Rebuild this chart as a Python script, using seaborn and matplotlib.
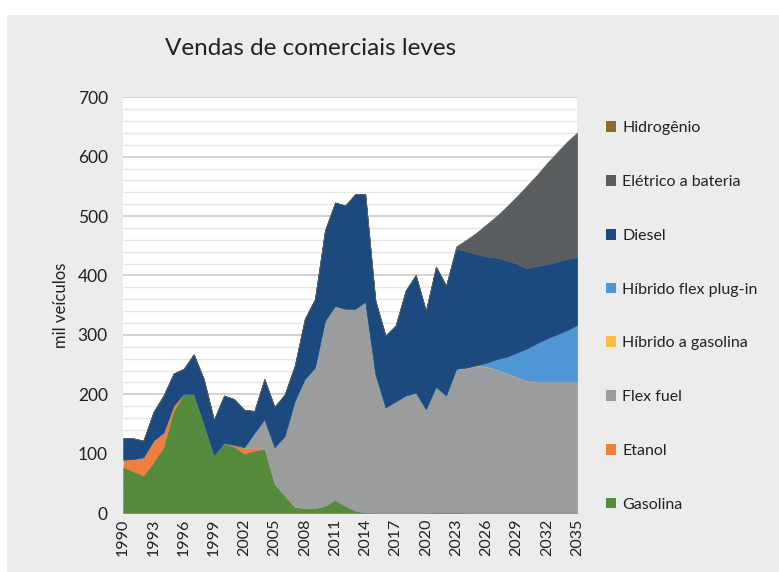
# %%
# import libraries
import matplotlib.pyplot as plt
import pandas as pd
import seaborn as sns
from matplotlib.patches import Patch
from matplotlib.ticker import MultipleLocator

# %%
# data (mil veículos)
years = list(range(1990, 2036))

gasolina = [77, 70, 63, 85, 111, 172, 200, 200, 150, 97, 117, 112, 100, 105, 108, 49,
            29, 10, 8, 8, 12, 22, 12, 4, 1, 0, 0, 0, 0, 0, 0, 1, 2, 2, 0, 0,
            0, 0, 0, 0, 0, 0, 0, 0, 0, 0]
etanol = [13, 21, 31, 37, 25, 9, 1, 0.5, 0.5, 0.5, 1, 3, 10, 5, 1, 1,
          0.5, 1, 0, 0, 0, 0, 0, 0, 0, 0, 0, 0, 0, 0, 0, 0, 0, 0, 0, 0,
          0, 0, 0, 0, 0, 0, 0, 0, 0, 0]
flex_fuel = [0, 0, 0, 0, 0, 0, 0, 0, 0, 0, 0, 0, 1, 25, 49, 61,
             100, 178, 218, 237, 312, 327, 332, 340, 355, 234, 178, 188, 198, 203, 175, 212,
             196, 240, 244, 248, 246, 241, 235, 228, 222, 220, 220, 220, 220, 220]
hibrido_gasolina = [0] * 33 + [1] * 13
hibrido_flex = [0] * 36 + [6, 17, 27, 41, 54, 65, 73, 80, 87, 96]
diesel = [36, 35, 28, 48, 62, 54, 42, 67, 75, 60, 80, 77, 63, 37, 68, 68,
          70, 59, 101, 115, 152, 174, 174, 193, 181, 124, 121, 128, 177, 198, 166, 202,
          185, 202, 196, 187, 179, 171, 162, 150, 135, 130, 125, 122, 120, 113]
eletrico = [0] * 33 + [4, 19, 36, 54, 70, 91, 113, 139, 153, 170, 184, 197, 210]
hidrogenio = [0] * 40 + [0.5, 0.7, 0.9, 1.1, 1.3, 1.5]

labels = ["Gasolina", "Etanol", "Flex fuel", "Híbrido a gasolina",
          "Híbrido flex plug-in", "Diesel", "Elétrico a bateria", "Hidrogênio"]
colors = ["#568b3e", "#f07f3c", "#9a9c9d", "#fbbf3f",
          "#4f97d4", "#1c4a7e", "#5a5d60", "#8e6d2a"]

df = pd.DataFrame({
    "Gasolina": gasolina,
    "Etanol": etanol,
    "Flex fuel": flex_fuel,
    "Híbrido a gasolina": hibrido_gasolina,
    "Híbrido flex plug-in": hibrido_flex,
    "Diesel": diesel,
    "Elétrico a bateria": eletrico,
    "Hidrogênio": hidrogenio,
}, index=years)

# %%
# plot
sns.set_theme(style="white")
plt.rcParams["font.family"] = ["Lato", "DejaVu Sans"]

bg = "#ececec"
fig = plt.figure(figsize=(7.79, 5.72), dpi=100, facecolor="white")
fig.patches.append(plt.Rectangle((0.009, 0), 0.991, 0.974, transform=fig.transFigure,
                                 facecolor=bg, edgecolor="none", zorder=-10))
ax = fig.add_axes([0.158, 0.103, 0.583, 0.727])
ax.set_facecolor("white")

polys = ax.stackplot(df.index, df.T.values, colors=colors, edgecolor="face", linewidth=0.4)
# thin layers: no outline, otherwise they trace the edge of the stack
for name, p in zip(labels, polys):
    if name in ("Etanol", "Híbrido a gasolina", "Hidrogênio"):
        p.set_linewidth(0)

ax.set_xlim(1990, 2035)
ax.set_ylim(0, 700)
ax.set_xticks(years[::3])
ax.set_xticklabels([str(y) for y in years[::3]], rotation=90, fontsize=11.5, color="#222222")
ax.yaxis.set_major_locator(MultipleLocator(100))
ax.yaxis.set_minor_locator(MultipleLocator(20))
ax.tick_params(axis="y", labelsize=12.5, labelcolor="#222222", length=0, pad=11)
ax.tick_params(axis="x", length=0, pad=4)
ax.grid(axis="y", which="major", color="#cfcfcf", linewidth=1.3, zorder=0)
ax.grid(axis="y", which="minor", color="#e6e6e6", linewidth=1.0, zorder=0)
ax.set_axisbelow(True)
sns.despine(ax=ax, left=True, bottom=True)

ax.set_ylabel("mil veículos", fontsize=12, color="#222222", labelpad=6)
fig.text(0.399, 0.915, "Vendas de comerciais leves", ha="center", va="center",
         fontsize=17.5, color="#222222")

handles = [Patch(facecolor=c, edgecolor="none") for c in colors][::-1]
fig.legend(handles, labels[::-1], loc="upper left", bbox_to_anchor=(0.759, 0.813),
           frameon=False, fontsize=11.5, handlelength=0.65, handleheight=0.65,
           handletextpad=0.4, labelspacing=2.49, labelcolor="#222222")

fig.savefig("out.png", dpi=100, facecolor=fig.get_facecolor())
